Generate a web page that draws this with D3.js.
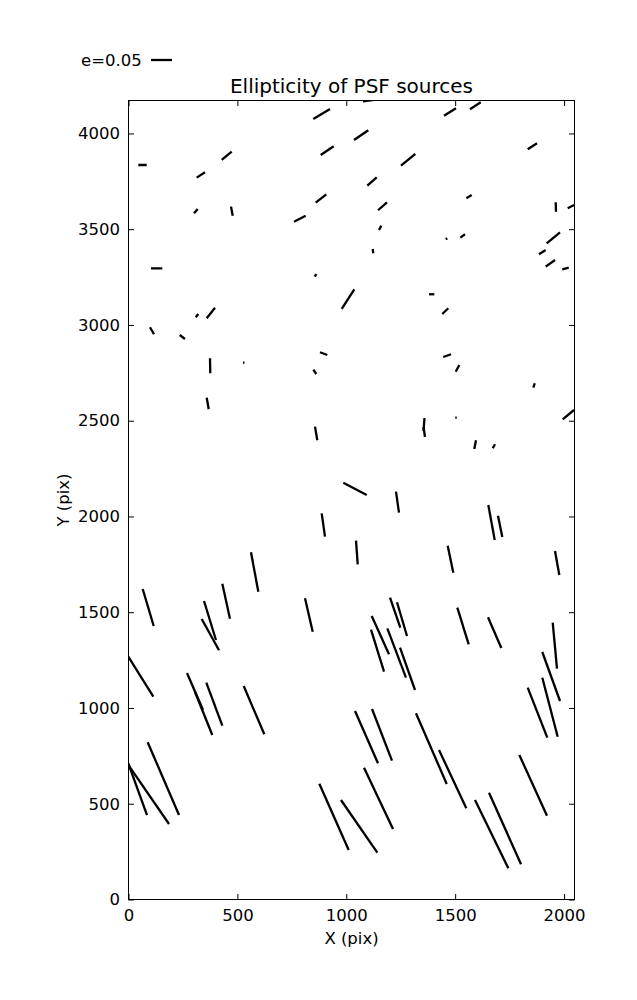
<!DOCTYPE html>
<html><head><meta charset="utf-8">
<script src="https://cdn.jsdelivr.net/npm/d3@7/dist/d3.min.js"></script>
<style>body{margin:0;background:#fff}svg{display:block}text{font-family:"DejaVu Sans",sans-serif;fill:#000}</style>
</head><body>
<svg id="chart" width="637" height="1000"></svg>
<script>
// Source positions (pix), ellipticity and position angle (deg, CCW from +x)
const srcX = [886.9,1102,1476.3,1592.7,64.3,450.9,332.2,912.4,1068.3,1284.2,1854.5,1118.2,884.0,1166.4,786.8,309.3,474.6,1563.6,1962.4,2031.3,1155.6,1122.7,1460.3,1534.4,1950.9,1900.4,1937.1,2006.7,129.3,858.7,1008.0,1392.1,1454.7,314.6,378.2,107.9,247.3,896.1,1463.2,1510.8,855.5,374.9,529.0,1862.1,363.7,1503.9,2019.8,1356.9,1358.1,861.7,1591.8,1677.7,1040.1,1235.2,1666.9,1706.6,894.7,1048.6,1478.6,1968.4,579.3,90.5,448.4,828.2,374.2,375.9,1224.5,1255.9,1536.0,1681.4,1156.5,1143.4,1231.3,1281.2,1957.8,1940.8,1935.5,1878.1,56.5,305.4,345.1,394.0,576.3,1092.9,1164.1,1390.7,1488.5,1858.2,1148.0,943.7,1059.1,1667.6,1728.9,160.0,42.0,92.5];
const srcY = [4101.6,4170.8,4112.1,4144.5,3835.3,3883.1,3783.2,3910.3,3991.2,3862.2,3933.0,3749.2,3660.4,3619.7,3554.9,3594.4,3594.1,3670.1,3616.0,3617.9,3507.2,3385.5,3450.0,3464.6,3455.2,3380.3,3321.8,3294.9,3295.9,3259.1,3134.9,3160.2,3072.2,3048.7,3062.5,2969.6,2937.2,2850.3,2839.8,2773.5,2755.2,2786.8,2803.0,2684.0,2590.0,2515.8,2531.7,2480.3,2441.1,2433.3,2375.1,2366.5,2144.3,2074.6,1968.6,1948.5,1955.5,1811.9,1777.0,1757.1,1710.1,1524.7,1557.6,1485.6,1456.9,1383.0,1497.6,1463.9,1428.1,1393.4,1380.4,1299.2,1287.2,1204.4,1325.3,1164.4,1004.1,975.4,1163.4,1086.1,971.2,1019.8,988.7,847.7,859.7,787.7,628.4,596.1,528.2,431.6,382.0,341.2,370.7,631.0,576.2,548.3];
const srcE = [0.0464,0.0264,0.0336,0.0305,0.0200,0.0310,0.0236,0.0371,0.0412,0.0440,0.0264,0.0300,0.0321,0.0286,0.0312,0.0136,0.0219,0.0150,0.0224,0.0169,0.0117,0.0102,0.0045,0.0138,0.0412,0.0190,0.0274,0.0157,0.0269,0.0074,0.0557,0.0126,0.0198,0.0100,0.0321,0.0193,0.0157,0.0186,0.0195,0.0181,0.0124,0.0357,0.0036,0.0110,0.0281,0.0036,0.0348,0.0310,0.0240,0.0329,0.0212,0.0110,0.0629,0.0505,0.0848,0.0517,0.0562,0.0564,0.0657,0.0581,0.0955,0.0919,0.0852,0.0817,0.0971,0.0852,0.0755,0.0838,0.0912,0.0798,0.1000,0.1048,0.1257,0.1069,0.1100,0.1240,0.1452,0.1279,0.1124,0.0960,0.1102,0.1093,0.1250,0.1360,0.1319,0.1836,0.1533,0.1588,0.1614,0.1726,0.1524,0.1810,0.1867,0.1886,0.1310,0.1707];
const srcTheta = [30.9,7.8,31.7,33.2,0,39.7,33,33.8,34.1,39.3,32.8,41.8,38.4,41.6,27.1,49.3,-79.3,31.4,-88.2,27.6,61.9,-82,32,35.9,39.6,32.7,35.8,14,0,59.3,57.4,0,43.5,51.8,51.9,-60.3,-37,-20.3,19.3,61.7,-55.1,-88.9,0,72.3,-80.2,0,39.5,85.6,-81.5,-80.4,78.9,60.1,-27.7,-81.9,-79.6,-78.6,-82,-85.9,-78.3,-79.8,-79.5,-73.4,-77.6,-77,-73,-61.1,-71.1,-73.5,-72.7,-66.6,-65.7,-72.8,-69.3,-70.5,-84.7,-70.1,-75.4,-68.6,-58,-66.6,-68.1,-69.6,-66.9,-66.3,-68.9,-66.5,-64.9,-65.5,-64.7,-66.1,-55.4,-64,-65.9,-66.7,-70.1,-55.4];
const xTicks = [0,500,1000,1500,2000];
const yTicks = [0,500,1000,1500,2000,2500,3000,3500,4000];
const legendE = 0.05;
const xDomain = [0,2048], yDomain = [0,4172];

const L = 128.5, T = 100.5, W = 446, H = 799;
const svg = d3.select("#chart");
const x = d3.scaleLinear().domain(xDomain).range([L, L+W]);
const y = d3.scaleLinear().domain(yDomain).range([T+H, T]);
const len = d3.scaleLinear().domain([0, legendE]).range([0, 21]);

svg.append("clipPath").attr("id","plotclip").append("rect")
  .attr("x",L).attr("y",T).attr("width",W).attr("height",H);

const data = srcX.map((v,i)=>({x:v,y:srcY[i],e:srcE[i],t:srcTheta[i]}));
svg.append("g").attr("clip-path","url(#plotclip)")
  .selectAll("line").data(data).join("line")
  .each(function(d){
    const cx=x(d.x), cy=y(d.y), h=Math.max(len(d.e),1.4)/2, a=d.t*Math.PI/180;
    d3.select(this).attr("x1",cx-h*Math.cos(a)).attr("y1",cy+h*Math.sin(a))
      .attr("x2",cx+h*Math.cos(a)).attr("y2",cy-h*Math.sin(a));
  })
  .attr("stroke","#000").attr("stroke-width",2.3).attr("stroke-linecap","butt");

// axes with inward ticks on all sides
const tl = 5.5;
const fmt = d3.format("d");
const axB = d3.axisBottom(x).tickValues(xTicks).tickFormat(fmt).tickSizeInner(-tl).tickSizeOuter(0).tickPadding(tl+4);
const axT = d3.axisTop(x).tickValues(xTicks).tickSizeInner(-tl).tickSizeOuter(0).tickFormat("");
const axLft = d3.axisLeft(y).tickValues(yTicks).tickFormat(fmt).tickSizeInner(-tl).tickSizeOuter(0).tickPadding(tl+3);
const axR = d3.axisRight(y).tickValues(yTicks).tickSizeInner(-tl).tickSizeOuter(0).tickFormat("");
function style(g){g.select(".domain").remove();g.selectAll("line").attr("stroke","#000");g.selectAll("text").attr("font-size","16.5px").attr("font-family","DejaVu Sans").attr("fill","#000");}
svg.append("g").attr("transform",`translate(0,${T+H})`).call(axB).call(style);
svg.append("g").attr("transform",`translate(0,${T})`).call(axT).call(style);
svg.append("g").attr("transform",`translate(${L},0)`).call(axLft).call(style);
svg.append("g").attr("transform",`translate(${L+W},0)`).call(axR).call(style);
svg.append("rect").attr("x",L).attr("y",T).attr("width",W).attr("height",H)
  .attr("fill","none").attr("stroke","#000").attr("stroke-width",1);

svg.append("text").attr("x",L+W/2).attr("y",93).attr("text-anchor","middle").attr("font-size","20px").text("Ellipticity of PSF sources");
svg.append("text").attr("x",L+W/2).attr("y",944).attr("text-anchor","middle").attr("font-size","16.5px").text("X (pix)");
svg.append("text").attr("transform",`translate(69,${T+H/2}) rotate(-90)`).attr("text-anchor","middle").attr("font-size","16.5px").text("Y (pix)");

// legend key
svg.append("text").attr("x",81).attr("y",66).attr("font-size","16.5px").text("e=" + legendE.toFixed(2));
svg.append("line").attr("x1",151).attr("x2",151+len(legendE)).attr("y1",60).attr("y2",60)
  .attr("stroke","#000").attr("stroke-width",2.3);
</script>
</body></html>
